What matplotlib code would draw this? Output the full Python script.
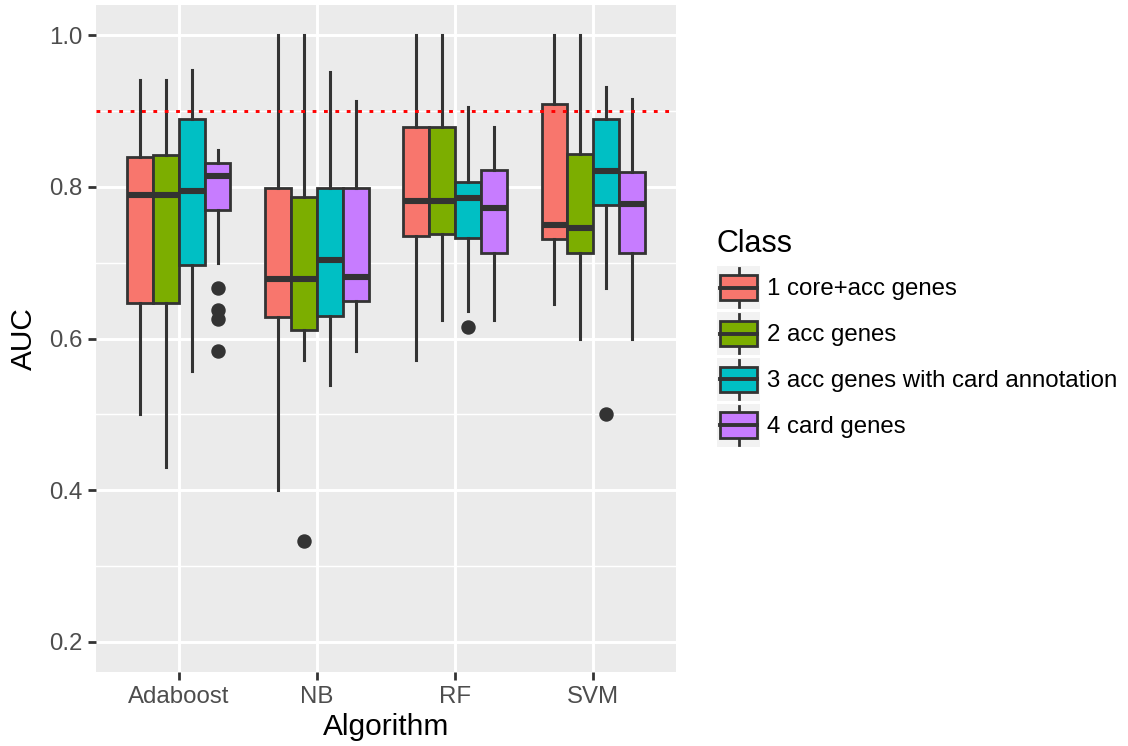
import matplotlib
matplotlib.use("Agg")
import matplotlib.pyplot as plt
from matplotlib.patches import Patch, Rectangle
from matplotlib.lines import Line2D
from matplotlib.legend_handler import HandlerBase
from matplotlib.ticker import MultipleLocator

plt.rcParams['font.family'] = ['Liberation Sans', 'DejaVu Sans']

algorithms = ["Adaboost", "NB", "RF", "SVM"]
classes = ["1 core+acc genes", "2 acc genes", "3 acc genes with card annotation", "4 card genes"]
colors = ["#F8766D", "#7CAE00", "#00BFC4", "#C77CFF"]

# per class, values over algorithms (Adaboost, NB, RF, SVM)
c1_whislo = [0.500, 0.400, 0.571, 0.646]
c1_q1     = [0.647, 0.629, 0.735, 0.731]
c1_med    = [0.789, 0.679, 0.782, 0.750]
c1_q3     = [0.840, 0.799, 0.879, 0.910]
c1_whishi = [0.941, 1.000, 1.000, 1.000]
c1_fliers = [[], [], [], []]

c2_whislo = [0.430, 0.571, 0.624, 0.600]
c2_q1     = [0.647, 0.611, 0.738, 0.713]
c2_med    = [0.789, 0.679, 0.782, 0.746]
c2_q3     = [0.842, 0.787, 0.879, 0.844]
c2_whishi = [0.941, 1.000, 1.000, 1.000]
c2_fliers = [[], [0.333], [], []]

c3_whislo = [0.557, 0.539, 0.636, 0.667]
c3_q1     = [0.697, 0.630, 0.733, 0.776]
c3_med    = [0.794, 0.703, 0.785, 0.821]
c3_q3     = [0.889, 0.799, 0.807, 0.889]
c3_whishi = [0.954, 0.951, 0.905, 0.932]
c3_fliers = [[], [], [0.615], [0.500]]

c4_whislo = [0.700, 0.583, 0.624, 0.600]
c4_q1     = [0.769, 0.650, 0.713, 0.713]
c4_med    = [0.815, 0.681, 0.772, 0.777]
c4_q3     = [0.832, 0.799, 0.822, 0.820]
c4_whishi = [0.849, 0.913, 0.879, 0.916]
c4_fliers = [[0.667, 0.638, 0.626, 0.584], [], [], []]

threshold = 0.9
y_ticks = [0.2, 0.4, 0.6, 0.8, 1.0]

series = [
    (c1_whislo, c1_q1, c1_med, c1_q3, c1_whishi, c1_fliers),
    (c2_whislo, c2_q1, c2_med, c2_q3, c2_whishi, c2_fliers),
    (c3_whislo, c3_q1, c3_med, c3_q3, c3_whishi, c3_fliers),
    (c4_whislo, c4_q1, c4_med, c4_q3, c4_whishi, c4_fliers),
]

DARK = "#333333"
W, H = 1128, 746
fig = plt.figure(figsize=(W / 100, H / 100), dpi=100)
ax = fig.add_axes([96 / W, 1 - 672 / H, (676 - 96) / W, (672 - 5) / H])
ax.set_facecolor("#EBEBEB")
for s in ax.spines.values():
    s.set_visible(False)

dodge = 0.75
n = len(classes)
bw = dodge / n
for k, (wl, q1, md, q3, wh, fl) in enumerate(series):
    stats = []
    for i in range(len(algorithms)):
        stats.append(dict(whislo=wl[i], q1=q1[i], med=md[i], q3=q3[i], whishi=wh[i], fliers=fl[i]))
    pos = [i + 1 - dodge / 2 + bw * (k + 0.5) for i in range(len(algorithms))]
    ax.bxp(stats, positions=pos, widths=bw * 0.985, patch_artist=True, showcaps=False,
           boxprops=dict(facecolor=colors[k], edgecolor=DARK, linewidth=2.0),
           medianprops=dict(color=DARK, linewidth=4.4, solid_capstyle='butt'),
           whiskerprops=dict(color=DARK, linewidth=2.2),
           flierprops=dict(marker='o', markerfacecolor=DARK, markeredgecolor=DARK, markersize=9.4),
           manage_ticks=False, zorder=3)

ax.axhline(threshold, color="red", linewidth=2.1, linestyle=(0, (1.3, 2.6)), zorder=5)

ax.set_xlim(0.4, 4.6)
ax.set_ylim(0.16, 1.04)
ax.set_xticks(range(1, len(algorithms) + 1))
ax.set_xticklabels(algorithms)
ax.set_yticks(y_ticks)
ax.set_yticklabels([f"{v:.1f}" for v in y_ticks])
ax.yaxis.set_minor_locator(MultipleLocator(0.1))
ax.grid(True, which='major', color='white', linewidth=2.1, zorder=0)
ax.grid(True, which='minor', axis='y', color='white', linewidth=1.05, zorder=0)
ax.set_axisbelow(True)
ax.tick_params(axis='both', which='major', length=5.8, width=2.0, color=DARK,
               labelsize=17.3, labelcolor="#4D4D4D", pad=4)
ax.tick_params(axis='y', which='minor', length=0)
ax.set_xlabel("Algorithm", fontsize=21.5, color="black", labelpad=4)
ax.set_ylabel("AUC", fontsize=21.5, color="black", labelpad=8)


class BoxHandler(HandlerBase):
    def create_artists(self, legend, orig_handle, xdescent, ydescent, width, height, fontsize, trans):
        x0, y0 = -xdescent, -ydescent
        bg = Rectangle((x0, y0), width, height, facecolor="#F2F2F2", edgecolor="none", transform=trans)
        cx = x0 + width / 2
        wl1 = Line2D([cx, cx], [y0 + height * 0.04, y0 + height * 0.2], color=DARK, linewidth=2.0, transform=trans)
        wl2 = Line2D([cx, cx], [y0 + height * 0.8, y0 + height * 0.96], color=DARK, linewidth=2.0, transform=trans)
        box = Rectangle((x0 + width * 0.07, y0 + height * 0.2), width * 0.86, height * 0.6,
                        facecolor=orig_handle.get_facecolor(), edgecolor=DARK, linewidth=2.0, transform=trans)
        med = Line2D([x0 + width * 0.07, x0 + width * 0.93], [y0 + height / 2] * 2, color=DARK,
                     linewidth=2.8, transform=trans)
        return [bg, wl1, wl2, box, med]


handles = [Patch(facecolor=c) for c in colors]
leg = fig.legend(handles, classes, handler_map={Patch: BoxHandler()},
                 loc='upper left', bbox_to_anchor=(717 / W, 1 - 229 / H),
                 frameon=False, fontsize=17.3, title="Class", title_fontsize=22,
                 handlelength=1.79, handleheight=2.38, labelspacing=0.12, handletextpad=0.28,
                 borderpad=0, borderaxespad=0, alignment='left')
# extra gap between the legend title and its entries
leg._legend_box.sep = leg._legend_box.sep + 3.0

fig.savefig("out.png", dpi=100)
